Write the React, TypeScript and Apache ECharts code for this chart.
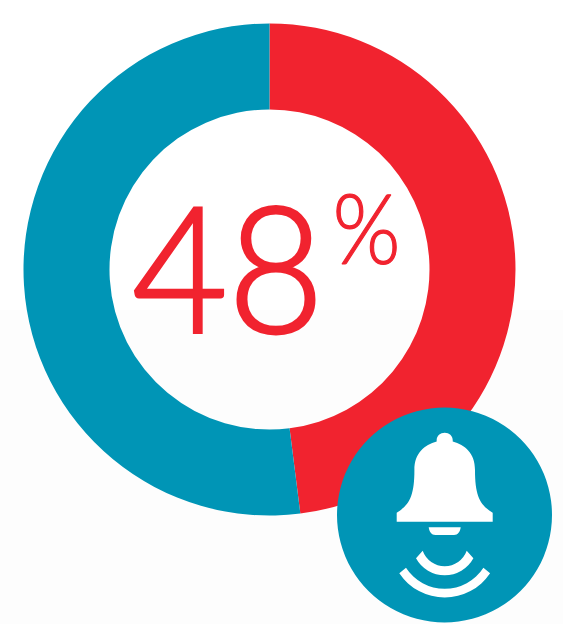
import React, { useEffect, useRef } from "react";
import * as echarts from "echarts";

const sliceNames = ["Alerted", "Other"];
const sliceValues = [48, 52];
const sliceColors = ["#f1232f", "#0095b6"];
const headline = String(sliceValues[0]);
const headlineUnit = "%";

// Bell with clapper and two sound waves, in page pixels.
const bellPath =
  "M436.7 441.5 C436.2 436 440 432.7 444.7 432.7 C449.4 432.7 453.2 436 452.7 441.5 " +
  "C465 445 475 453 475 470 C475 496 480 505 492.7 512.7 L492.7 521.7 L396.7 521.7 L396.7 512.7 " +
  "C409.4 505 414.4 496 414.4 470 C414.4 453 424.4 445 436.7 441.5 Z " +
  "M428.7 527.3 L460.7 527.3 C460 532 458 535 454 535 L435.4 535 C431.4 535 429.4 532 428.7 527.3 Z " +
  "M416 558.3 A32.7 32.7 0 0 0 473.4 558.3 L466.7 550.7 A23.4 23.4 0 0 1 422.7 550.7 Z " +
  "M399.3 573.3 A54.7 54.7 0 0 0 490.1 573.3 L483.4 567.7 A46 46 0 0 1 406 567.7 Z";

echarts.graphic.registerShape("bellIcon", echarts.graphic.extendPath(bellPath, {}));

export default function App() {
  const ref = useRef<HTMLDivElement>(null);

  useEffect(() => {
    document.body.style.margin = "0";
    const chart = echarts.init(ref.current!, undefined, { renderer: "svg" });
    chart.setOption({
      animation: false,
      backgroundColor: "#ffffff",
      series: [
        {
          type: "pie",
          silent: true,
          center: [269.5, 269.5],
          radius: [160, 246],
          startAngle: 90,
          clockwise: true,
          label: { show: false },
          labelLine: { show: false },
          z: 2,
          data: sliceNames.map((name, i) => ({
            name,
            value: sliceValues[i],
            itemStyle: { color: sliceColors[i] },
          })),
        },
      ],
      graphic: [
        {
          type: "rect",
          z: -1,
          shape: { x: 0, y: 310, width: 563, height: 314 },
          style: { fill: "#fdfdfd" },
        },
        {
          type: "text",
          z: 10,
          x: 132,
          y: 176,
          scaleX: 0.94,
          style: {
            text: headline,
            fill: sliceColors[0],
            stroke: sliceColors[0],
            lineWidth: 3,
            font: '300 176px Lato, "Open Sans", sans-serif',
          },
        },
        {
          type: "text",
          z: 10,
          x: 332.5,
          y: 179,
          scaleX: 0.91,
          style: {
            text: headlineUnit,
            fill: sliceColors[0],
            stroke: sliceColors[0],
            lineWidth: 1.2,
            font: '300 96px Lato, "Open Sans", sans-serif',
          },
        },
        {
          type: "circle",
          z: 10,
          shape: { cx: 444.5, cy: 515, r: 107.5 },
          style: { fill: sliceColors[1] },
        },
        { type: "bellIcon", z: 11, style: { fill: "#ffffff" } },
      ],
    });
    return () => chart.dispose();
  }, []);

  return <div ref={ref} style={{ width: 563, height: 624 }} />;
}
